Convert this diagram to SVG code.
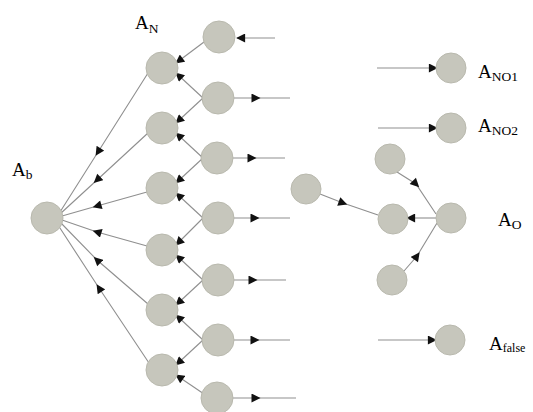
<svg xmlns="http://www.w3.org/2000/svg" width="533" height="412" viewBox="0 0 533 412">
<style>
.n{fill:#c6c6bc;stroke:#b9b9ae;stroke-width:1}
.e{fill:none;stroke:#8f8f8f;stroke-width:1.1}
.t{font-family:"Liberation Serif","Times New Roman",serif;fill:#000}
.big{font-size:19px}
.sub{font-size:13.5px}
</style>
<defs>
<marker id="ah" viewBox="0 0 10 10" refX="9" refY="5" markerWidth="10" markerHeight="9" markerUnits="userSpaceOnUse" orient="auto">
<path d="M0,0 L10,5 L0,10 z" fill="#111"/>
</marker>
<marker id="am" viewBox="0 0 10 10" refX="5" refY="5" markerWidth="10" markerHeight="9" markerUnits="userSpaceOnUse" orient="auto">
<path d="M0,0 L10,5 L0,10 z" fill="#111"/>
</marker>
</defs>
<g id="connectors">
<polyline class="e" points="148,73 98,152 60,212" marker-mid="url(#am)"/>
<polyline class="e" points="148,133 97,180 60,214" marker-mid="url(#am)"/>
<polyline class="e" points="147,192 97,206 62,216" marker-mid="url(#am)"/>
<polyline class="e" points="147,246 97,232 62,220" marker-mid="url(#am)"/>
<polyline class="e" points="148,304 97,260 60,222" marker-mid="url(#am)"/>
<polyline class="e" points="149,363 99,288 58,225" marker-mid="url(#am)"/>
<line class="e" x1="204" y1="42" x2="176" y2="63" marker-end="url(#ah)"/>
<line class="e" x1="203" y1="98" x2="176" y2="73" marker-end="url(#ah)"/>
<line class="e" x1="203" y1="98" x2="176" y2="123" marker-end="url(#ah)"/>
<line class="e" x1="203" y1="158" x2="176" y2="133" marker-end="url(#ah)"/>
<line class="e" x1="203" y1="158" x2="176" y2="183" marker-end="url(#ah)"/>
<line class="e" x1="203" y1="218" x2="176" y2="193" marker-end="url(#ah)"/>
<line class="e" x1="203" y1="218" x2="176" y2="245" marker-end="url(#ah)"/>
<line class="e" x1="203" y1="280" x2="176" y2="255" marker-end="url(#ah)"/>
<line class="e" x1="203" y1="280" x2="176" y2="305" marker-end="url(#ah)"/>
<line class="e" x1="203" y1="340" x2="176" y2="315" marker-end="url(#ah)"/>
<line class="e" x1="203" y1="340" x2="176" y2="365" marker-end="url(#ah)"/>
<line class="e" x1="204" y1="394" x2="176" y2="375" marker-end="url(#ah)"/>
<line class="e" x1="275" y1="38" x2="237" y2="38" marker-end="url(#ah)"/>
<polyline class="e" points="234,98 256,98 290,98" marker-mid="url(#am)"/>
<polyline class="e" points="233,158 252,158 285,158" marker-mid="url(#am)"/>
<polyline class="e" points="234,218 255,218 290,218" marker-mid="url(#am)"/>
<polyline class="e" points="234,280 253,280 286,280" marker-mid="url(#am)"/>
<polyline class="e" points="234,340 255,340 290,340" marker-mid="url(#am)"/>
<polyline class="e" points="233,398 256,398 296,398" marker-mid="url(#am)"/>
<line class="e" x1="377" y1="68" x2="437" y2="68" marker-end="url(#ah)"/>
<line class="e" x1="378" y1="128" x2="437" y2="128" marker-end="url(#ah)"/>
<line class="e" x1="378" y1="340" x2="436" y2="340" marker-end="url(#ah)"/>
<polyline class="e" points="320,194 343,203 378,215" marker-mid="url(#am)"/>
<polyline class="e" points="397,172 416,184 436,214" marker-mid="url(#am)"/>
<line class="e" x1="436" y1="218" x2="407" y2="218" marker-end="url(#ah)"/>
<polyline class="e" points="404,271 417,256 437,223" marker-mid="url(#am)"/>
</g>
<g id="Ab"><circle class="n" cx="47" cy="218" r="16"/><text class="t big" x="12" y="176">A<tspan class="sub" dy="3">b</tspan></text></g>
<g id="AN-label"><text class="t big" x="135" y="29">A<tspan class="sub" dy="4">N</tspan></text></g>
<g id="AN1"><circle class="n" cx="162" cy="68" r="16"/></g>
<g id="AN2"><circle class="n" cx="162" cy="128" r="16"/></g>
<g id="AN3"><circle class="n" cx="162" cy="188" r="16"/></g>
<g id="AN4"><circle class="n" cx="162" cy="250" r="16"/></g>
<g id="AN5"><circle class="n" cx="162" cy="310" r="16"/></g>
<g id="AN6"><circle class="n" cx="162" cy="370" r="16"/></g>
<g id="C1"><circle class="n" cx="219" cy="37" r="16"/></g>
<g id="C2"><circle class="n" cx="218" cy="98" r="16"/></g>
<g id="C3"><circle class="n" cx="217" cy="158" r="16"/></g>
<g id="C4"><circle class="n" cx="218" cy="218" r="16"/></g>
<g id="C5"><circle class="n" cx="218" cy="280" r="16"/></g>
<g id="C6"><circle class="n" cx="218" cy="340" r="16"/></g>
<g id="C7"><circle class="n" cx="217" cy="398" r="16"/></g>
<g id="ANO1"><circle class="n" cx="451" cy="68" r="15"/><text class="t big" x="478" y="78">A<tspan class="sub" dy="3">NO1</tspan></text></g>
<g id="ANO2"><circle class="n" cx="451" cy="128" r="15"/><text class="t big" x="478" y="132">A<tspan class="sub" dy="3">NO2</tspan></text></g>
<g id="L1"><circle class="n" cx="306" cy="189" r="15"/></g>
<g id="O-top"><circle class="n" cx="390" cy="159" r="15"/></g>
<g id="O-mid"><circle class="n" cx="393" cy="219" r="15"/></g>
<g id="O-bot"><circle class="n" cx="392" cy="280" r="15"/></g>
<g id="AO"><circle class="n" cx="451" cy="218" r="15"/><text class="t big" x="498" y="226">A<tspan class="sub" dy="3">O</tspan></text></g>
<g id="Afalse"><circle class="n" cx="450" cy="340" r="15"/><text class="t big" x="489" y="350">A<tspan font-size="12" dy="2">false</tspan></text></g>
</svg>
